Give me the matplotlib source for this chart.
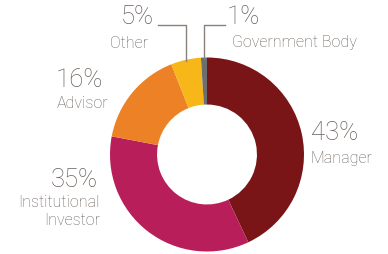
import matplotlib
matplotlib.use("Agg")
import matplotlib.pyplot as plt

categories = ["Manager", "Institutional\nInvestor", "Advisor", "Other", "Government Body"]
values = [43, 35, 16, 5, 1]
pct_labels = ["43%", "35%", "16%", "5%", "1%"]
colors = ["#7a1517", "#b81e5a", "#ec8225", "#f7b718", "#6d6e70"]

W, H = 388, 255
fig = plt.figure(figsize=(W / 100, H / 100), dpi=100)
ax = fig.add_axes([0, 0, 1, 1])

cx, cy, R = 207, H - 155.5, 97
ax.pie(values, colors=colors, startangle=90, counterclock=False,
       radius=R, center=(cx, cy),
       wedgeprops=dict(width=R * 0.485, linewidth=0))
ax.set_xlim(0, W)
ax.set_ylim(0, H)
ax.set_aspect("equal")
ax.axis("off")

tc = "#685f59"
fam = ["Roboto", "DejaVu Sans"]
big = dict(color=tc, fontsize=18.5, family=fam, fontweight="light", va="center")
small = dict(color=tc, fontsize=11.5, family=fam, fontweight="light", va="center")

# label positions (pixel coords from top)
pos = {
    0: ((311, 133, "left"), (311, 158, "left")),
    1: ((98, 180, "right"), (100, 212, "right")),
    2: ((103, 80, "right"), (108, 103, "right")),
    3: ((154, 17, "right"), (148, 43, "right")),
    4: ((227, 17, "left"), (232, 42, "left")),
}
for i in range(len(values)):
    (px, py, ha), (lx, ly, lha) = pos[i]
    ax.text(px, H - py, pct_labels[i], ha=ha, **big)
    ax.text(lx, H - ly, categories[i], ha=lha, linespacing=1.25, **small)

# leader lines
lc = "#8a817b"
ax.plot([158, 185.5, 185.5], [H - 26, H - 26, H - 62], color=lc, lw=1.0)
ax.plot([203.5, 203.5, 225], [H - 60, H - 26, H - 26], color=lc, lw=1.0)

fig.savefig("out.png", dpi=100)
